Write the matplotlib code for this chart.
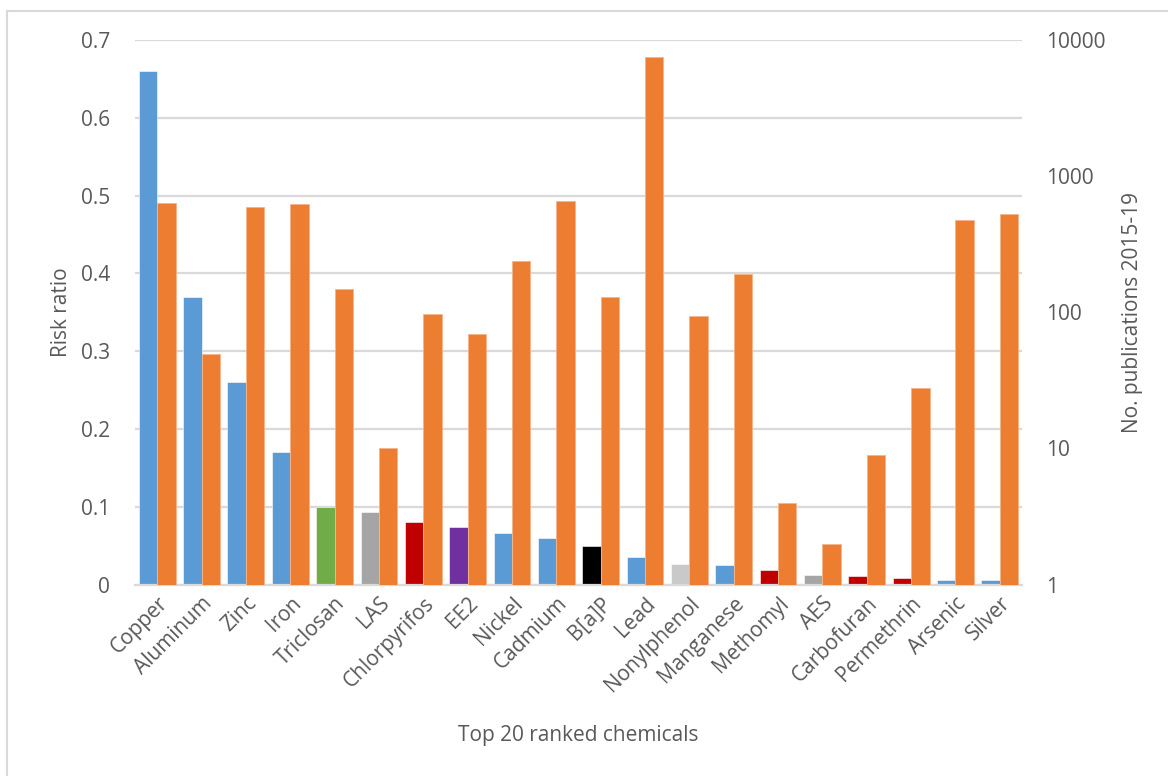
import matplotlib

matplotlib.use("Agg")
import matplotlib.pyplot as plt
from matplotlib.lines import Line2D
import numpy as np

plt.rcParams["font.family"] = ["Open Sans", "DejaVu Sans"]

chemicals = [
    "Copper", "Aluminum", "Zinc", "Iron", "Triclosan", "LAS", "Chlorpyrifos", "EE2",
    "Nickel", "Cadmium", "B[a]P", "Lead", "Nonylphenol", "Manganese", "Methomyl",
    "AES", "Carbofuran", "Permethrin", "Arsenic", "Silver",
]
risk_ratio = [
    0.66, 0.37, 0.26, 0.17, 0.10, 0.093, 0.080, 0.074, 0.066, 0.060,
    0.050, 0.036, 0.027, 0.025, 0.019, 0.012, 0.011, 0.0085, 0.006, 0.0055,
]
publications = [
    635, 49, 597, 621, 148, 10, 97, 69, 238, 660,
    129, 7500, 94, 192, 4, 2, 9, 28, 476, 527,
]
risk_colors = [
    "#5B9BD5", "#5B9BD5", "#5B9BD5", "#5B9BD5", "#70AD47", "#A5A5A5", "#C00000", "#7030A0",
    "#5B9BD5", "#5B9BD5", "#000000", "#5B9BD5", "#C9C9C9", "#5B9BD5", "#C00000",
    "#A5A5A5", "#C00000", "#C00000", "#5B9BD5", "#5B9BD5",
]
pub_color = "#ED7D31"
text_color = "#595959"
grid_color = "#D9D9D9"

fig = plt.figure(figsize=(11.68, 7.76), dpi=100)
ax = fig.add_axes([0.1156, 0.2466, 0.7594, 0.7019])
ax2 = ax.twinx()

x = np.arange(len(chemicals))
width = 0.415
ax.bar(x - width / 2, risk_ratio, width, color=risk_colors, edgecolor="white", linewidth=0.4, zorder=2)
ax2.bar(x + width / 2, publications, width, color=pub_color, edgecolor="#F6B48A", linewidth=0.6,
        zorder=2)

ax.set_xlim(-0.5, len(chemicals) - 0.5)
ax.set_ylim(0, 0.7)
ax.set_yticks(np.arange(0, 0.71, 0.1))
ax.set_yticklabels(["0", "0.1", "0.2", "0.3", "0.4", "0.5", "0.6", "0.7"])
ax.yaxis.grid(True, color=grid_color, linewidth=1.6)
ax.set_axisbelow(True)

ax2.set_yscale("log")
ax2.set_ylim(1, 10000)
ax2.set_yticks([1, 10, 100, 1000, 10000])
ax2.set_yticklabels(["1", "10", "100", "1000", "10000"])
ax2.minorticks_off()

ax.set_xticks(x)
ax.set_xticklabels(chemicals, rotation=45, ha="right", rotation_mode="anchor")

for a in (ax, ax2):
    for side in ("top", "left", "right", "bottom"):
        a.spines[side].set_visible(False)
    a.tick_params(length=0, labelsize=15, labelcolor=text_color)
ax.spines["bottom"].set_visible(True)
ax.spines["bottom"].set_color(grid_color)
ax.spines["bottom"].set_linewidth(1.6)
ax.tick_params(axis="y", pad=18)
ax.tick_params(axis="x", pad=6)
ax2.tick_params(axis="y", pad=17)

ax.set_ylabel("Risk ratio", fontsize=15, color=text_color, labelpad=6)
ax2.set_ylabel("No. publications 2015-19", fontsize=15, color=text_color, labelpad=12)
ax.set_xlabel("Top 20 ranked chemicals", fontsize=15, color=text_color, labelpad=21)

# chart area border (only left and top edges fall inside the image)
fig.add_artist(Line2D([7 / 1168, 7 / 1168], [0, 1 - 11 / 776], transform=fig.transFigure,
                      color=grid_color, linewidth=1.5))
fig.add_artist(Line2D([7 / 1168, 1], [1 - 11 / 776, 1 - 11 / 776], transform=fig.transFigure,
                      color=grid_color, linewidth=1.5))

fig.savefig("out.png", dpi=100)
